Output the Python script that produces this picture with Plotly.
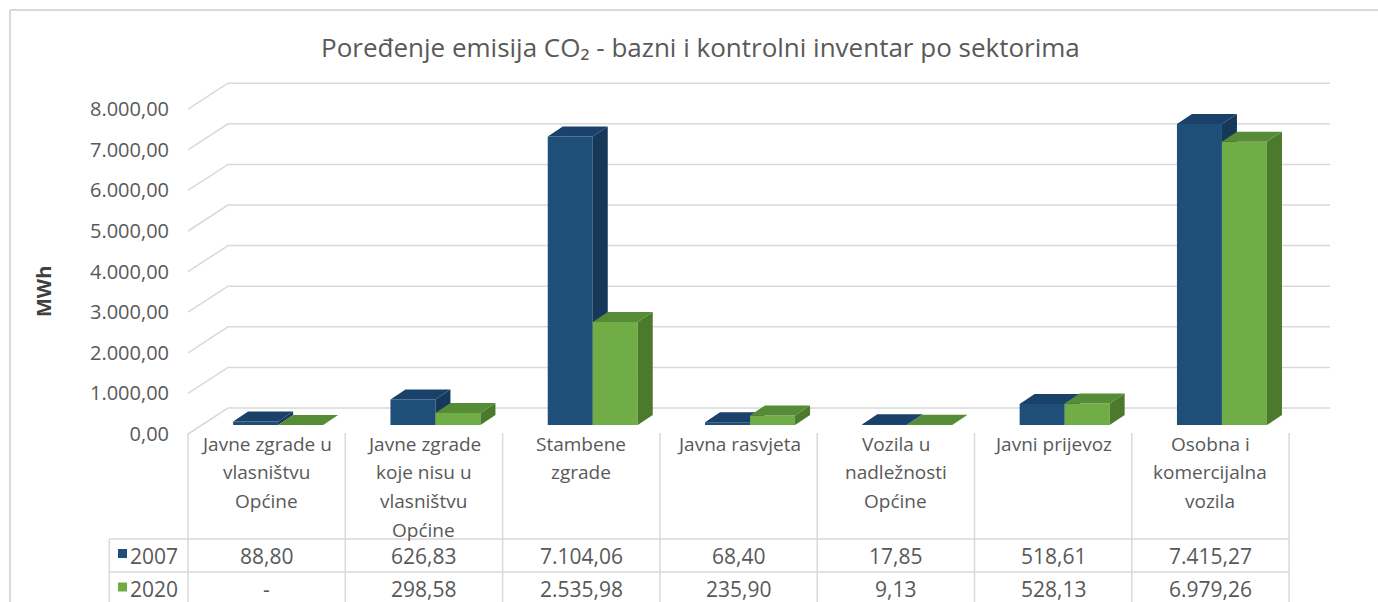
import plotly.graph_objects as go

# ---------------- data ----------------
categories = [
    "Javne zgrade u<br>vlasništvu<br>Općine",
    "Javne zgrade<br>koje nisu u<br>vlasništvu<br>Općine",
    "Stambene<br>zgrade",
    "Javna rasvjeta",
    "Vozila u<br>nadležnosti<br>Općine",
    "Javni prijevoz",
    "Osobna i<br>komercijalna<br>vozila",
]
series_names = ["2007", "2020"]
values_2007 = [88.80, 626.83, 7104.06, 68.40, 17.85, 518.61, 7415.27]
values_2020 = [None, 298.58, 2535.98, 235.90, 9.13, 528.13, 6979.26]
y_ticks = [0, 1000, 2000, 3000, 4000, 5000, 6000, 7000, 8000]
title_text = "Poređenje emisija CO₂ - bazni i kontrolni inventar po sektorima"
y_title = "MWh"

# ---------------- styling / geometry ----------------
W, H = 1378, 602
FONT = "Open Sans"
TXT = "#595959"
GRID = "#D9D9D9"
BLUE = dict(front="#1F4E79", side="#16395A", top="#1A4169")
GREEN = dict(front="#70AD47", side="#4B7A2C", top="#578C37")

PX_PER_CAT = 157.3
CAT0_PX = 266.65
S = 0.0406  # px per MWh

def px_to_xunit(px):
    return (px - CAT0_PX) / PX_PER_CAT

def yrange(zero_px):
    return [-(H - zero_px) / S, zero_px / S]

def py(px):  # pixel from top -> paper
    return 1 - px / H

def fmt(v):
    if v is None:
        return "-"
    s = f"{v:,.2f}"
    return s.replace(",", "X").replace(".", ",").replace("X", ".")

xr = [px_to_xunit(0), px_to_xunit(W)]
LABEL_ZERO = 434
BAR_ZERO = 425
WALL_DX = 40 / PX_PER_CAT
WALL_DY = 26 / S
X_RIGHT = px_to_xunit(1330)
BAR_W = 45 / PX_PER_CAT
BLUE_OFF = -33.5 / PX_PER_CAT
GREEN_OFF = BLUE_OFF + BAR_W
BAR_DX = 15 / PX_PER_CAT
BAR_DY = 10 / S

fig = go.Figure()

# gridlines (front diagonal + back wall)
gx, gy = [], []
for v in y_ticks:
    gx += [-0.5, -0.5 + WALL_DX, X_RIGHT, None]
    gy += [v, v + WALL_DY, v + WALL_DY, None]
fig.add_trace(go.Scatter(x=gx, y=gy, mode="lines", line=dict(color=GRID, width=1.5),
                         hoverinfo="skip", xaxis="x", yaxis="y"))

def add_series(vals, off, col, yax, name):
    xs = list(range(len(vals)))
    fig.add_trace(go.Bar(x=xs, y=[v if v is not None else 0 for v in vals], offset=off, width=BAR_W,
                         marker=dict(color=col["front"], line=dict(width=0)),
                         name=name, xaxis="x", yaxis=yax))
    sx, sy, tx, ty = [], [], [], []
    for i, v in enumerate(vals):
        h = v if v is not None else 0
        x0 = i + off
        x1 = x0 + BAR_W
        sx += [x1, x1, x1 + BAR_DX, x1 + BAR_DX, x1, None]
        sy += [0, h, h + BAR_DY, BAR_DY, 0, None]
        tx += [x0, x1, x1 + BAR_DX, x0 + BAR_DX, x0, None]
        ty += [h, h, h + BAR_DY, h + BAR_DY, h, None]
    fig.add_trace(go.Scatter(x=sx, y=sy, mode="lines", fill="toself", fillcolor=col["side"],
                             line=dict(width=0, color=col["side"]), hoverinfo="skip",
                             xaxis="x", yaxis=yax))
    fig.add_trace(go.Scatter(x=tx, y=ty, mode="lines", fill="toself", fillcolor=col["top"],
                             line=dict(width=0, color=col["top"]), hoverinfo="skip",
                             xaxis="x", yaxis=yax))

add_series(values_2007, BLUE_OFF, BLUE, "y2", series_names[0])
add_series(values_2020, GREEN_OFF, GREEN, "y3", series_names[1])

shapes = []
annotations = []

# outer frame
shapes.append(dict(type="line", xref="paper", yref="paper", x0=10 / W, x1=1, y0=py(10), y1=py(10),
                   line=dict(color=GRID, width=2)))
shapes.append(dict(type="line", xref="paper", yref="paper", x0=10 / W, x1=10 / W, y0=py(10), y1=0,
                   line=dict(color=GRID, width=2)))

# data table
ROW1, ROW2, ROWEND = 539, 572, 606
n = len(categories)
for k in range(n + 1):
    shapes.append(dict(type="line", xref="x", yref="paper", x0=k - 0.5, x1=k - 0.5,
                       y0=py(433), y1=py(ROWEND), line=dict(color=GRID, width=1.5)))
shapes.append(dict(type="line", xref="x", yref="paper", x0=-1.0, x1=-1.0,
                   y0=py(ROW1), y1=py(ROWEND), line=dict(color=GRID, width=1.5)))
for r in (ROW1, ROW2, ROWEND):
    shapes.append(dict(type="line", xref="x", yref="paper", x0=-1.0, x1=n - 0.5,
                       y0=py(r), y1=py(r), line=dict(color=GRID, width=1.5)))

for i, cat in enumerate(categories):
    for k, line in enumerate(cat.split("<br>")):
        annotations.append(dict(x=i, y=py(444 + 28.5 * k), xref="x", yref="paper", text=line,
                                showarrow=False, xanchor="center", yanchor="middle",
                                font=dict(family=FONT, size=19, color=TXT)))

row_centers = [(ROW1 + ROW2) / 2, (ROW2 + ROWEND) / 2]
for vals, rc, col, name in ((values_2007, row_centers[0], BLUE, series_names[0]),
                            (values_2020, row_centers[1], GREEN, series_names[1])):
    for i, v in enumerate(vals):
        annotations.append(dict(x=i, y=py(rc), xref="x", yref="paper", text=fmt(v),
                                showarrow=False, xanchor="center", yanchor="middle",
                                font=dict(family=FONT, size=21, color=TXT)))
    shapes.append(dict(type="rect", xref="paper", yref="paper", x0=118 / W, x1=127 / W,
                       y0=py(rc - 6.5), y1=py(rc + 2.5), fillcolor=col["front"], line=dict(width=0)))
    annotations.append(dict(x=128 / W, y=py(rc), xref="paper", yref="paper", text=name,
                            showarrow=False, xanchor="left", yanchor="middle",
                            font=dict(family=FONT, size=21, color=TXT)))

# title and axis title
annotations.append(dict(x=700 / W, y=py(47), xref="paper", yref="paper", text=title_text,
                        showarrow=False, xanchor="center", yanchor="middle",
                        font=dict(family=FONT, size=26, color=TXT)))
annotations.append(dict(x=43 / W, y=py(292), xref="paper", yref="paper", text="<b>" + y_title + "</b>",
                        showarrow=False, xanchor="center", yanchor="middle", textangle=-90,
                        font=dict(family=FONT, size=20, color="#404040")))

fig.update_layout(
    width=W, height=H,
    margin=dict(l=0, r=0, t=0, b=0),
    paper_bgcolor="white", plot_bgcolor="rgba(0,0,0,0)",
    showlegend=False,
    separators=",.",
    xaxis=dict(domain=[0, 1], range=xr, visible=False, fixedrange=True),
    yaxis=dict(domain=[0, 1], range=yrange(LABEL_ZERO), anchor="free", position=169 / W,
               tickvals=y_ticks, tickformat=",.2f", showgrid=False, zeroline=False,
               showline=False, ticks="", tickfont=dict(family=FONT, size=20, color=TXT)),
    yaxis2=dict(domain=[0, 1], range=yrange(BAR_ZERO), overlaying="y", visible=False),
    yaxis3=dict(domain=[0, 1], range=yrange(BAR_ZERO), overlaying="y", visible=False),
    shapes=shapes,
    annotations=annotations,
)

fig.write_html("out.html", config={"displayModeBar": False},
               post_script="document.body.style.margin='0';document.body.style.overflow='hidden';")
